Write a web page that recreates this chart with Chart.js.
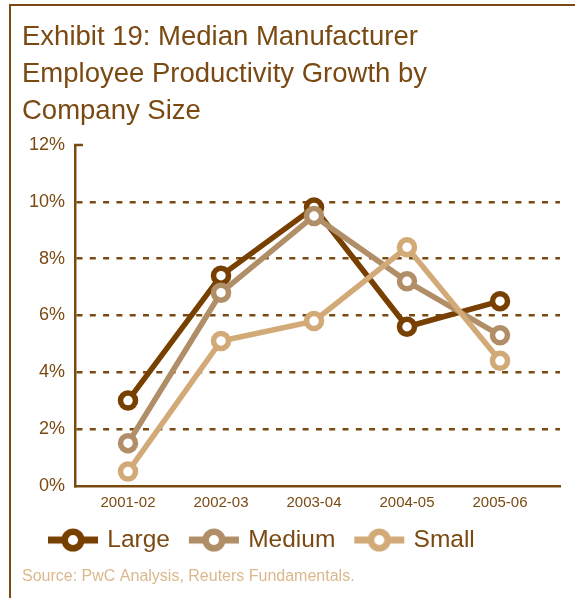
<!DOCTYPE html>
<html>
<head>
<meta charset="utf-8">
<script src="https://cdn.jsdelivr.net/npm/chart.js@4/dist/chart.umd.min.js"></script>
<style>
  html, body { margin: 0; padding: 0; background: #ffffff; }
  #wrap { position: relative; width: 575px; height: 598px; overflow: hidden; }
  #frame {
    position: absolute; left: 9px; top: 4px; right: -4px; bottom: -4px;
    border-top: 2px solid #7a4a12; border-left: 2px solid #7a4a12;
  }
  canvas { position: absolute; left: 0; top: 0; }
</style>
</head>
<body>
<div id="wrap">
  <div id="frame"></div>
  <canvas id="chart" width="575" height="598"></canvas>
</div>
<script>
// Fiscal periods on the x axis
const periods = ['2001-02', '2002-03', '2003-04', '2004-05', '2005-06'];

// Median employee productivity growth (%) by company size
const largeGrowth  = [3.0, 7.4, 9.8, 5.6, 6.5];
const mediumGrowth = [1.5, 6.8, 9.5, 7.2, 5.3];
const smallGrowth  = [0.5, 5.1, 5.8, 8.4, 4.4];

// Y axis tick values (%)
const yTicks = [0, 2, 4, 6, 8, 10, 12];

const seriesNames  = ['Large', 'Medium', 'Small'];
const seriesColors = ['#773f00', '#b08e67', '#d2aa78'];
const textColor = '#7a4a12';
const FONT = '"Liberation Sans", Arial, Helvetica, sans-serif';

// Legend marker: a short line with a hollow ring on it
function legendMarker(color) {
  const c = document.createElement('canvas');
  c.width = 52; c.height = 26;
  const g = c.getContext('2d');
  g.strokeStyle = color;
  g.lineWidth = 7;
  g.beginPath(); g.moveTo(1, 13); g.lineTo(51, 13); g.stroke();
  g.beginPath(); g.arc(26, 13, 8.3, 0, Math.PI * 2);
  g.fillStyle = '#ffffff'; g.fill();
  g.lineWidth = 6.5; g.stroke();
  return c;
}
const markers = seriesColors.map(legendMarker);

function series(i, values) {
  return {
    label: seriesNames[i],
    data: values.map((v, k) => ({ x: k, y: v })),
    borderColor: seriesColors[i],
    backgroundColor: '#ffffff',
    borderWidth: 5.5,
    pointRadius: 7.5,
    pointBorderWidth: 5.5,
    pointBackgroundColor: '#ffffff',
    pointBorderColor: seriesColors[i],
    pointHoverRadius: 7.5,
    tension: 0,
    clip: false,
    order: 3 - i
  };
}

// Short solid tick at the top of the y axis, and place the legend row
const axisCap = {
  id: 'axisCap',
  afterLayout(chart) {
    const lg = chart.legend;
    if (lg) {
      lg.left += 7; lg.right += 7;
      lg.top -= 14; lg.bottom -= 14;
    }
  },
  afterDraw(chart) {
    const y = chart.scales.y, ctx = chart.ctx;
    const py = y.getPixelForValue(yTicks[yTicks.length - 1]);
    ctx.save();
    ctx.strokeStyle = textColor;
    ctx.lineWidth = 2.5;
    ctx.beginPath();
    ctx.moveTo(y.right - 1, py);
    ctx.lineTo(y.right + 8, py);
    ctx.stroke();
    ctx.restore();
  }
};

new Chart(document.getElementById('chart'), {
  type: 'line',
  data: {
    datasets: [
      series(0, largeGrowth),
      series(1, mediumGrowth),
      series(2, smallGrowth)
    ]
  },
  options: {
    responsive: false,
    animation: false,
    events: [],
    layout: { padding: { left: 22, right: 15, top: 0, bottom: 12 } },
    scales: {
      x: {
        type: 'linear',
        min: -0.57,
        max: 4.645,
        afterBuildTicks(scale) {
          scale.ticks = periods.map((_, i) => ({ value: i }));
        },
        grid: { display: false, drawTicks: false },
        border: { display: true, color: textColor, width: 2.5 },
        ticks: {
          color: textColor,
          font: { family: FONT, size: 15 },
          padding: 8,
          maxRotation: 0,
          autoSkip: false,
          callback: (v) => periods[v] ?? ''
        }
      },
      y: {
        min: 0,
        max: 12,
        afterBuildTicks(scale) {
          scale.ticks = yTicks.map(v => ({ value: v }));
        },
        afterFit(scale) { scale.width = 53; },
        grid: {
          drawTicks: false,
          lineWidth: 2.5,
          color: (ctx) => (ctx.tick && (ctx.tick.value === 0 || ctx.tick.value === 12)) ? 'rgba(0,0,0,0)' : textColor
        },
        border: { display: true, color: textColor, width: 2.5, dash: [6, 7.3] },
        ticks: {
          color: textColor,
          font: { family: FONT, size: 18 },
          padding: 10,
          callback: (v) => v + '%'
        }
      }
    },
    plugins: {
      tooltip: { enabled: false },
      title: {
        display: true,
        text: ['Exhibit 19: Median Manufacturer', 'Employee Productivity Growth by', 'Company Size'],
        align: 'start',
        color: textColor,
        font: { family: FONT, size: 27.5, weight: 'normal', lineHeight: 37 / 27.5 },
        padding: { top: 19, bottom: 15 }
      },
      legend: {
        display: true,
        position: 'bottom',
        align: 'start',
        labels: {
          usePointStyle: true,
          pointStyleWidth: 44,
          boxHeight: 24,
          padding: 22,
          color: textColor,
          font: { family: FONT, size: 24.5 },
          generateLabels: (chart) => chart.data.datasets.map((ds, i) => ({
            text: ds.label,
            pointStyle: markers[i],
            fontColor: textColor,
            strokeStyle: seriesColors[i],
            fillStyle: '#ffffff',
            lineWidth: 0,
            hidden: false,
            datasetIndex: i
          }))
        }
      },
      subtitle: {
        display: true,
        position: 'bottom',
        align: 'start',
        text: 'Source: PwC Analysis, Reuters Fundamentals.',
        color: '#dbb88c',
        font: { family: FONT, size: 16, weight: 'normal' },
        padding: { top: -9.5, bottom: 0 }
      }
    }
  },
  plugins: [axisCap]
});
</script>
</body>
</html>
